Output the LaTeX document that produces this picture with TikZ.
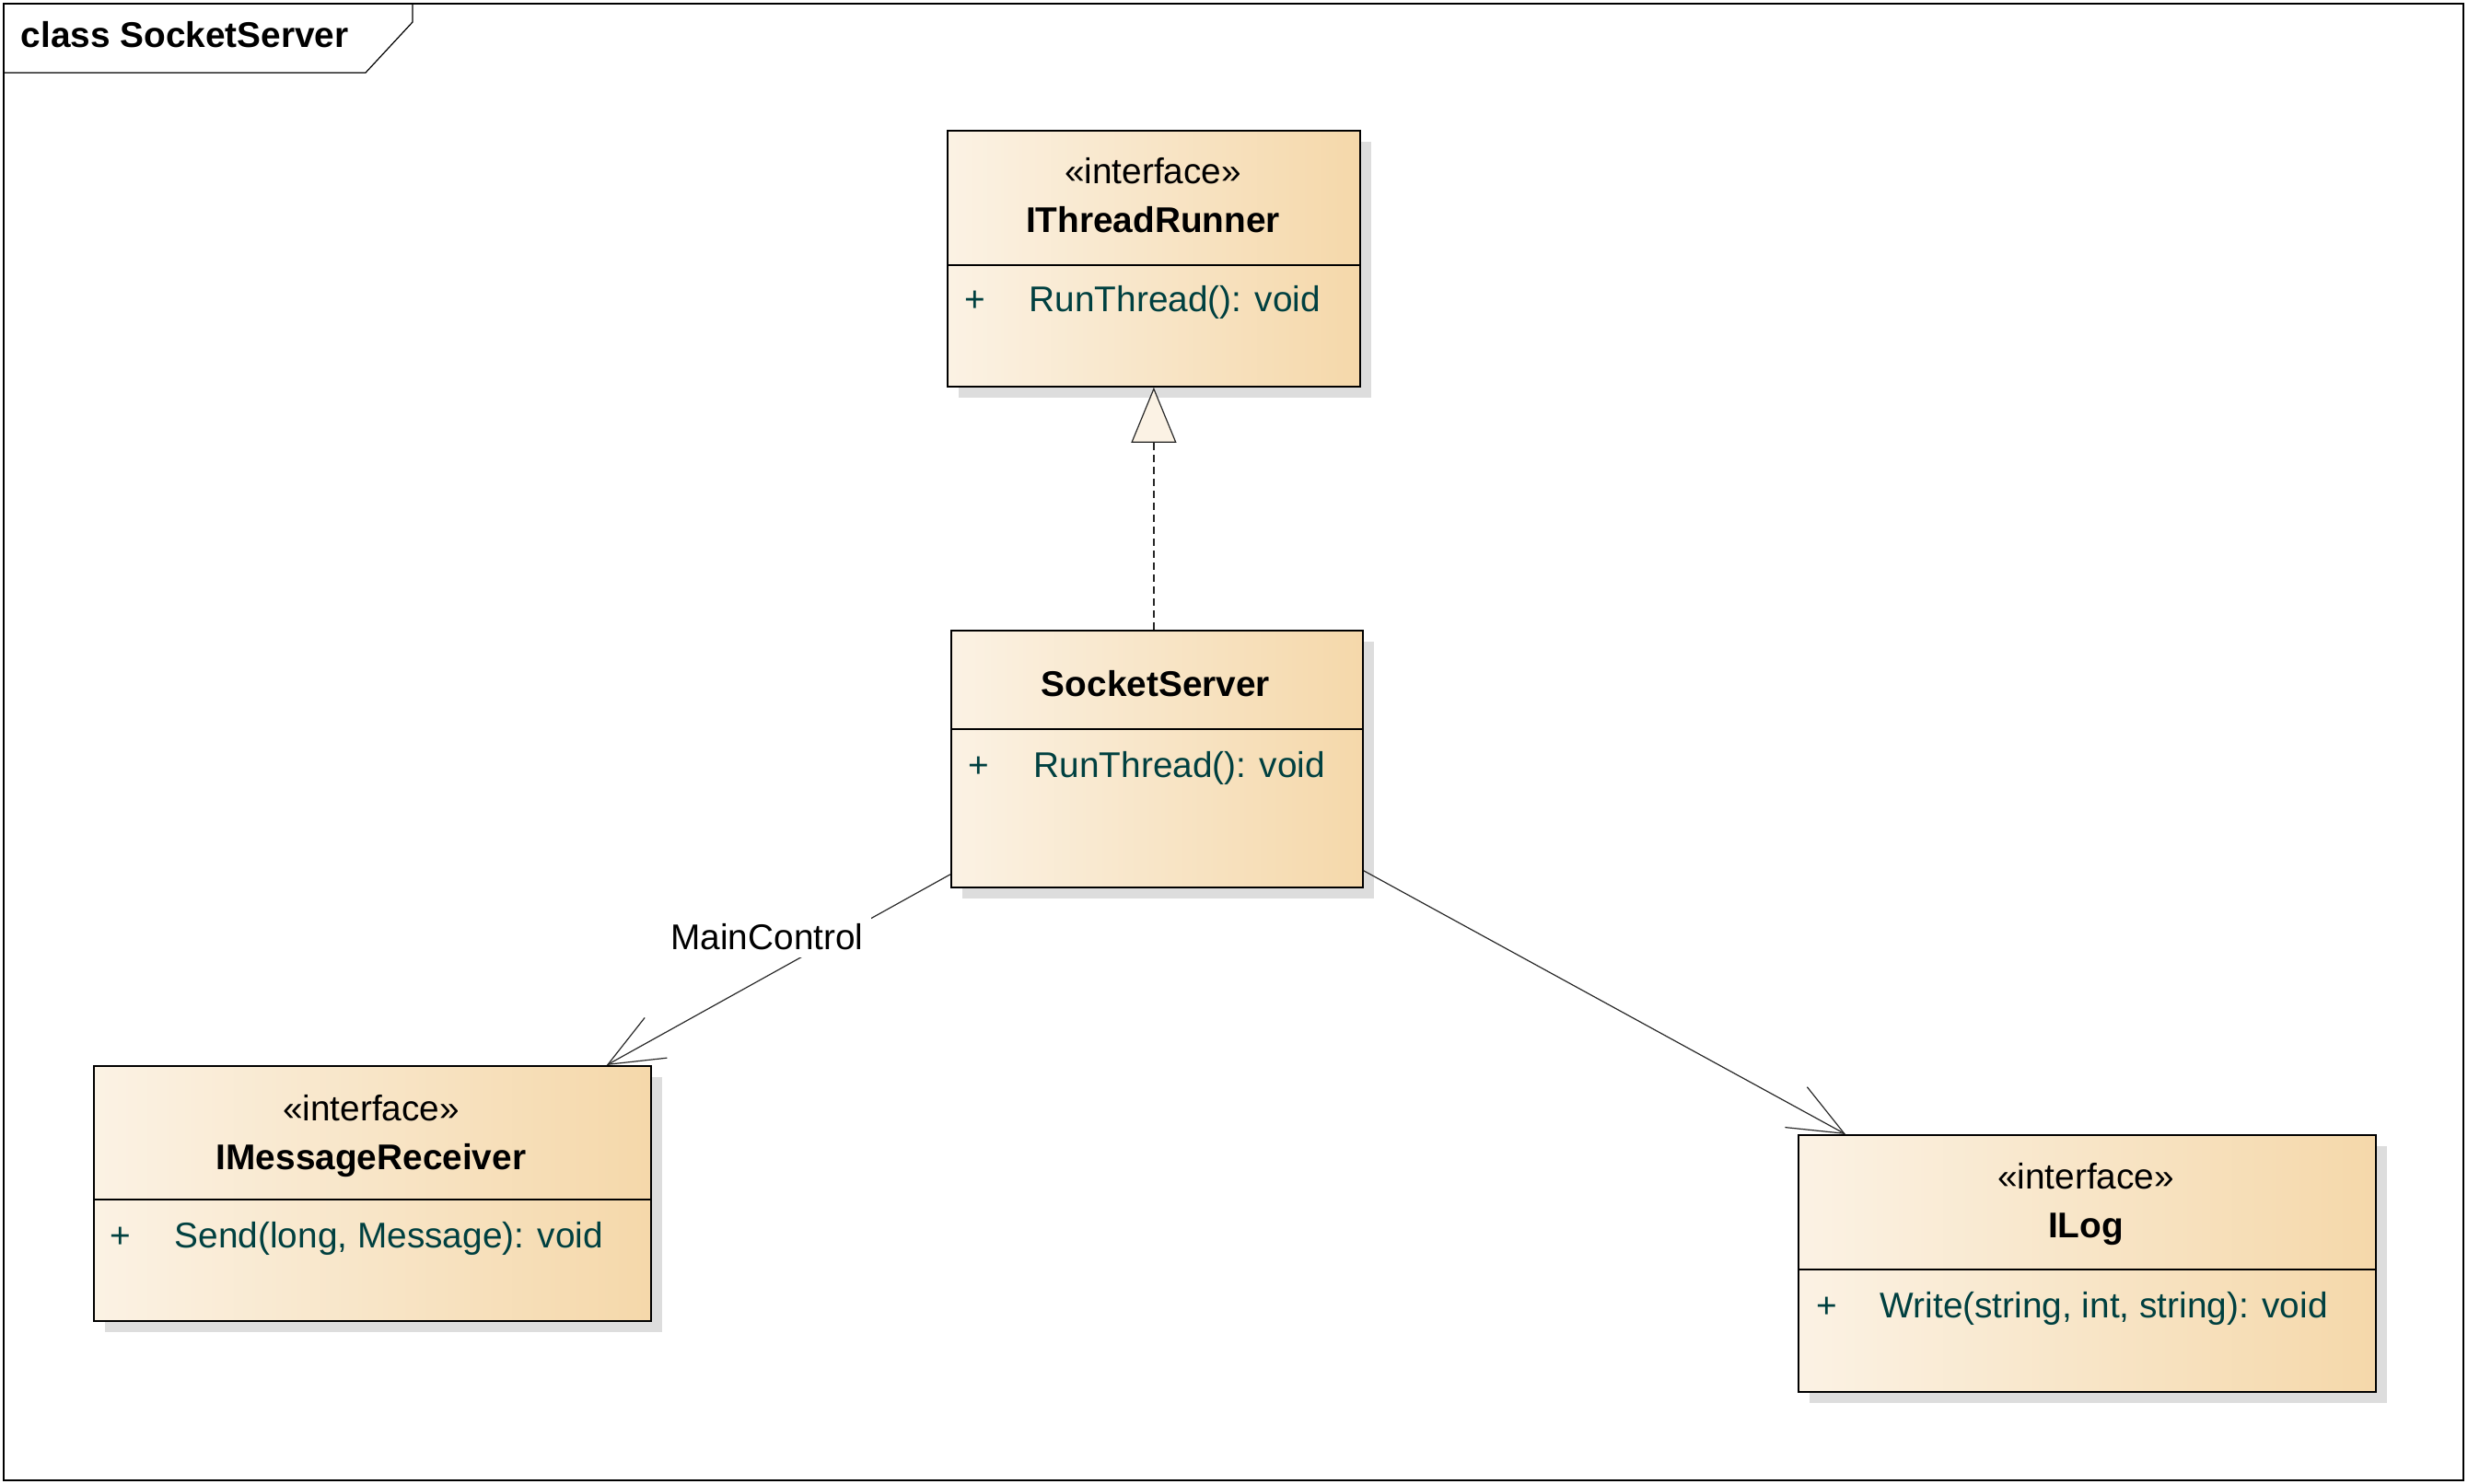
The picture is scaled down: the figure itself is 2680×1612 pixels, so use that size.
\documentclass[tikz,border=0pt]{standalone}
\usepackage{fontspec}
\setmainfont{Liberation Sans}
\usetikzlibrary{arrows.meta,calc,shadows}

\definecolor{boxleft}{RGB}{251,242,228}
\definecolor{boxright}{RGB}{245,216,170}
\definecolor{opcol}{RGB}{0,64,64}
\definecolor{shadecol}{RGB}{221,221,221}
\definecolor{linecol}{RGB}{40,40,40}

\tikzset{
    classbox/.style={draw,line width=0.45pt,left color=boxleft,right color=boxright,
        anchor=north west,inner sep=0pt,
        drop shadow={shadow xshift=3pt,shadow yshift=-3pt,fill=shadecol,opacity=1}},
    divider/.style={line width=0.35pt},
    stereo/.style={anchor=base,inner sep=0pt,font=\fontsize{9.7}{11}\selectfont},
    cname/.style={anchor=base,inner sep=0pt,font=\fontsize{9.7}{11}\selectfont\bfseries},
    plus/.style={anchor=base,inner sep=0pt,text=opcol,font=\fontsize{9.7}{11}\selectfont},
    oper/.style={anchor=base west,inner sep=0pt,text=opcol,font=\fontsize{9.7}{11}\selectfont},
    assoc/.style={draw=linecol,line width=0.3pt,-{Straight Barb[length=14.9pt,width=12.5pt]}},
    real/.style={draw=linecol,line width=0.3pt,dash pattern=on 2pt off 1.25pt,
        -{Triangle[length=15pt,width=12.25pt,fill=boxleft]}},
    assoclabel/.style={anchor=base,fill=white,inner sep=2pt,font=\fontsize{9.7}{11}\selectfont}
}

\begin{document}
\begin{tikzpicture}[x=0.25pt,y=-0.25pt]
    \useasboundingbox (0,0) rectangle (2680,1612);
    % frame
    \draw[line width=0.55pt] (4,4) rectangle (2675,1608);
    \draw[line width=0.3pt] (4,79) -- (397,79) -- (448,24) -- (448,4);
    \node[anchor=base west,inner sep=0pt,font=\fontsize{9.7}{11}\selectfont\bfseries] (title) at (22,52) {class SocketServer};

    % IThreadRunner
    \node[classbox,minimum width=112pt,minimum height=69.5pt] (itr) at (1028,141) {};
    \draw[divider] (1028,288) -- (1476,288);
    \node[stereo] (itrst) at (1252,200) {«interface»};
    \node[cname] (itrname) at (1252,253) {IThreadRunner};
    \node[plus] (itrplus) at (1059,339) {+};
    \node[oper] (itrop) at (1117,339) {RunThread(): void};

    % SocketServer
    \node[classbox,minimum width=111.75pt,minimum height=69.75pt] (ss) at (1032,684) {};
    \draw[divider] (1032,792) -- (1479,792);
    \node[cname] (ssname) at (1255,757) {SocketServer};
    \node[plus] (ssplus) at (1063,845) {+};
    \node[oper] (ssop) at (1122,845) {RunThread(): void};

    % IMessageReceiver
    \node[classbox,minimum width=151.25pt,minimum height=69.25pt] (imr) at (101,1157) {};
    \draw[divider] (101,1303) -- (706,1303);
    \node[stereo] (imrst) at (403,1218) {«interface»};
    \node[cname] (imrname) at (403,1271) {IMessageReceiver};
    \node[plus] (imrplus) at (131,1356) {+};
    \node[oper] (imrop) at (189,1356) {Send(long, Message): void};

    % ILog
    \node[classbox,minimum width=156.75pt,minimum height=69.75pt] (ilog) at (1952,1232) {};
    \draw[divider] (1952,1379) -- (2579,1379);
    \node[stereo] (ilogst) at (2265,1292) {«interface»};
    \node[cname] (ilogname) at (2265,1345) {ILog};
    \node[plus] (ilogplus) at (1984,1432) {+};
    \node[oper] (ilogop) at (2041,1432) {Write(string, int, string): void};

    % relations
    \draw[real] (ss.north -| itr.south) -- (itr.south);
    \draw[assoc] ($(ss.south west)+(0,-15)$) -- ($(imr.north east)+(-49,0)$);
    \node[assoclabel] (mclabel) at (833,1032) {MainControl};
    \draw[assoc] ($(ss.south east)+(0,-19)$) -- ($(ilog.north west)+(52,0)$);
\end{tikzpicture}
\end{document}
